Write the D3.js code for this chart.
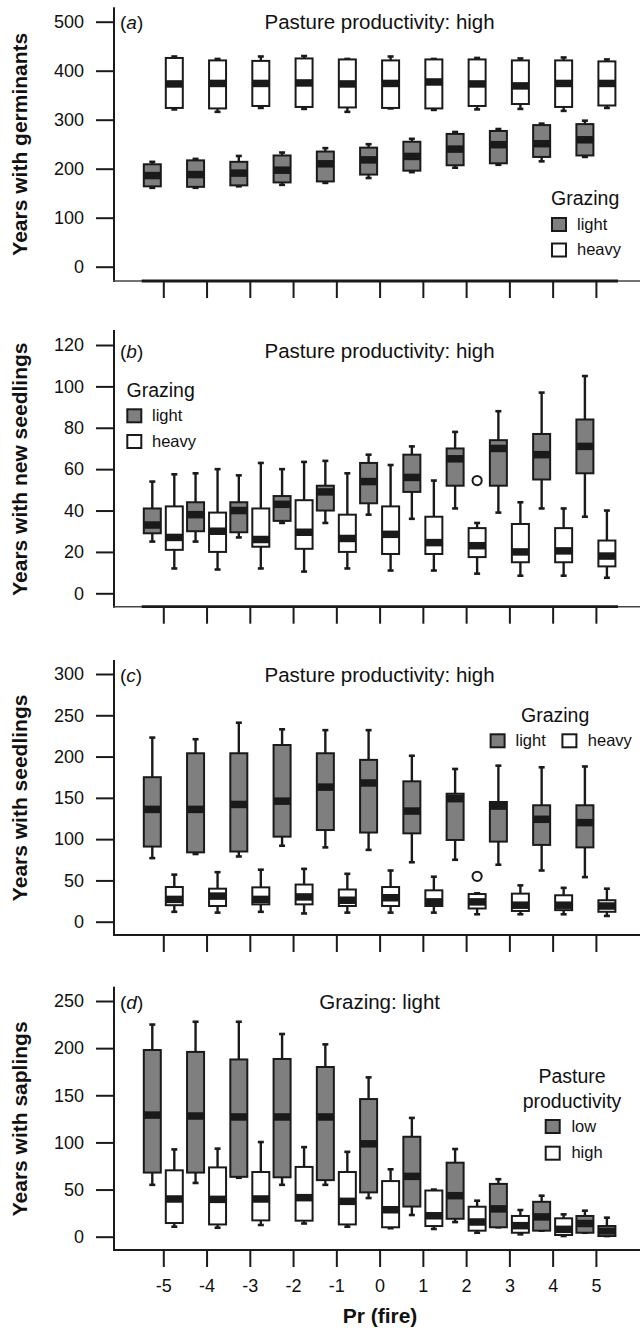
<!DOCTYPE html>
<html><head><meta charset="utf-8">
<script src="https://cdn.jsdelivr.net/npm/d3@7"></script>
<style>
body{margin:0;background:#fff}
svg text{font-family:"Liberation Sans",Arial,Helvetica,sans-serif;fill:#111}
</style>
</head><body>
<svg id="chart" width="640" height="1328"></svg>
<script>
// ---------- DATA ----------
const categories = [-5,-4,-3,-2,-1,0,1,2,3,4,5];
// each entry: [min, q1, median, q3, max]
const germinantsLight = [[161,164,186,209,214],[161,163,188,217,220],[164,166,191,214,226],[167,172,197,227,233],[171,174,210,235,242],[181,188,218,243,250],[193,196,225,255,261],[202,207,240,271,275],[208,211,249,277,281],[215,224,251,289,292],[224,227,259,291,298]];
const germinantsHeavy = [[321,324,373,426,429],[316,323,374,421,424],[324,328,374,420,429],[322,326,375,425,430],[316,325,373,423,424],[323,324,374,421,429],[320,323,377,423,424],[321,328,373,423,426],[322,332,369,421,425],[318,326,374,421,427],[324,329,374,419,423]];
const newSeedLight = [[25,29,33,41,54],[25,30,38,44,58],[27,29.5,40,44,57],[34,35,43,47,60],[34,40,49,52,64],[38,43.5,54,63,67],[36,49,56,67,71],[41,52,65,70,78],[39,52,70,74,88],[41,55,67,77,97],[37,58,71,84,105]];
const newSeedHeavy = [[12,21,27,42,57.5],[11.5,20,30,39,60],[12,22.5,26,41,63],[10.5,21.5,29.5,45,63.5],[12,20,26.5,38,58],[11,19,28.5,42,62],[11,19,24.5,37,54.5],[9.5,17.5,23,31.5,34],[8.5,15,20,33.5,44],[8.5,15,20.5,31.5,41],[7.5,13,18,25.5,40]];
const newSeedHeavyOutliers = [[2,54.5]];
const seedLight = [[77,91,136,175,223],[82,84,136,204,221],[79,85,142,204,241],[92,103,146,214,233],[90,111,163,204,232],[87,108,168,196,232],[72,107,134,170,201],[75,99,149,155,185],[69,97,140,145,189],[62,93,124,141,187],[54,90,120,141,188]];
const seedHeavy = [[12,20,27,42,57],[11,19,31,40,60],[12,21,27,41.6,63],[10,21,30,45,64],[11,19,26,39,58],[11,19,29,42,62],[11,19,24,38,54.5],[9,16,24,33.5,34.4],[9,13,20,34,44],[9,14,20,32,41],[7,12,19,26,40]];
const seedHeavyOutliers = [[2,55]];
const saplingLow = [[55,68,129,198,225],[57,68,128,196,228],[62.5,63.5,127,188,228],[55,63,127,188.5,215],[55,60,127,180,204],[41,47,98.5,146,169],[23,32,64,106,126],[15.5,19,43.5,78.5,93],[10,10,29.5,56,61],[6.4,6.4,21,37,43.5],[4.2,4.2,14,22,27.6]];
const saplingHigh = [[10.6,14.5,40,70.4,92.6],[9.5,13,39.6,73.5,93.4],[12.4,17.3,40,68.6,100.4],[14,17,41.4,74,95],[10.6,13,37.5,68.6,90],[9,10,28.6,59,71.5],[8.2,11.3,22.2,49,50],[4.2,6.4,15.6,31.8,38.2],[2.5,4.2,11.7,22,28.3],[0.7,1.8,7.8,19.5,23.7],[0.7,0.7,6,11.3,20.2]];
const ticksA = [0,100,200,300,400,500];
const ticksB = [0,20,40,60,80,100,120];
const ticksC = [0,50,100,150,200,250,300];
const ticksD = [0,50,100,150,200,250];

// ---------- STYLE / LAYOUT ----------
const GRAY = "#7f7f7f", WHITE = "#ffffff", INK = "#1a1a1a";
const OFF = 11, BW = 17, BAND = 7.5;
const svg = d3.select("#chart");
const x = d3.scalePoint().domain(categories).range([163.3, 595.9]);

const panels = [
  {label:"a", yTitle:"Years with germinants", title:"Pasture productivity: high", ticks:ticksA,
   domain:[0,500], range:[266.7,21.7], top:7.3, bottom:281, titleY:29.3, thick:true,
   series:[{data:germinantsLight, fill:GRAY, dx:-OFF, out:[]},{data:germinantsHeavy, fill:WHITE, dx:OFF, out:[]}],
   legend:{type:"v", head:"Grazing", hx:551, hy:205, sx:552, tx:577, rows:[[218,229.5,"light",GRAY],[243.5,254.5,"heavy",WHITE]]}},
  {label:"b", yTitle:"Years with new seedlings", title:"Pasture productivity: high", ticks:ticksB,
   domain:[0,120], range:[593.3,345], top:330, bottom:606.7, titleY:357.5, thick:true,
   series:[{data:newSeedLight, fill:GRAY, dx:-OFF, out:[]},{data:newSeedHeavy, fill:WHITE, dx:OFF, out:newSeedHeavyOutliers}],
   legend:{type:"v", head:"Grazing", hx:126.5, hy:396.7, sx:127.3, tx:152, rows:[[409.3,420.5,"light",GRAY],[435,446.5,"heavy",WHITE]]}},
  {label:"c", yTitle:"Years with seedlings", title:"Pasture productivity: high", ticks:ticksC,
   domain:[0,300], range:[921.7,674], top:660, bottom:935, titleY:681.5, thick:false,
   series:[{data:seedLight, fill:GRAY, dx:-OFF, out:[]},{data:seedHeavy, fill:WHITE, dx:OFF, out:seedHeavyOutliers}],
   legend:{type:"h", head:"Grazing", hx:521, hy:721.7, ty:746, sy:734.3, items:[[490.6,515.5,"light",GRAY],[562.4,587.8,"heavy",WHITE]]}},
  {label:"d", yTitle:"Years with saplings", title:"Grazing: light", ticks:ticksD,
   domain:[0,250], range:[1236.7,1001], top:986.7, bottom:1250, titleY:1008.5, thick:false, xLabels:true,
   series:[{data:saplingLow, fill:GRAY, dx:-OFF, out:[]},{data:saplingHigh, fill:WHITE, dx:OFF, out:[]}],
   legend:{type:"v2", heads:[["Pasture",1082.7],["productivity",1108.3]], hx:572, sx:545.7, tx:571.4, rows:[[1120,1131.7,"low",GRAY],[1146.7,1158.3,"high",WHITE]]}}
];

function drawBox(g, cx, s, fill, y) {
  const [mn,q1,md,q3,mx] = s;
  const yMin=y(mn), yQ1=y(q1), yMd=y(md), yQ3=y(q3), yMax=y(mx);
  // whiskers
  g.append("line").attr("x1",cx).attr("x2",cx).attr("y1",yMax).attr("y2",yMin)
    .attr("stroke",INK).attr("stroke-width",2.4);
  [yMax,yMin].forEach(v=>g.append("line").attr("x1",cx-3).attr("x2",cx+3).attr("y1",v).attr("y2",v)
    .attr("stroke",INK).attr("stroke-width",2.6));
  // box
  g.append("rect").attr("x",cx-BW/2).attr("y",yQ3).attr("width",BW).attr("height",Math.max(0.5,yQ1-yQ3))
    .attr("fill",fill).attr("stroke",INK).attr("stroke-width",2);
  // median band
  let b0 = Math.max(yQ3, yMd-BAND/2), b1 = Math.min(yQ1, yMd+BAND/2);
  if (b1-b0 < BAND) { if (b0===yQ3) b1=Math.min(yQ1,b0+BAND); else b0=Math.max(yQ3,b1-BAND); }
  g.append("rect").attr("x",cx-BW/2).attr("y",b0).attr("width",BW).attr("height",Math.max(0,b1-b0))
    .attr("fill",INK);
}

panels.forEach(p => {
  const y = d3.scaleLinear().domain(p.domain).range(p.range);
  const g = svg.append("g");
  // frame
  g.append("line").attr("x1",114).attr("x2",114).attr("y1",p.top).attr("y2",p.bottom+1)
    .attr("stroke",INK).attr("stroke-width",2);
  g.append("line").attr("x1",113).attr("x2",640).attr("y1",p.bottom).attr("y2",p.bottom)
    .attr("stroke",p.thick?"#444":INK).attr("stroke-width",p.thick?1.4:2);
  if (p.thick) g.append("line").attr("x1",141.7).attr("x2",618).attr("y1",p.bottom).attr("y2",p.bottom)
    .attr("stroke",INK).attr("stroke-width",2.8);
  // y axis
  const ya = g.append("g").attr("transform","translate(114,0)")
    .call(d3.axisLeft(y).tickValues(p.ticks).tickSize(18).tickPadding(12).tickFormat(d3.format("d")));
  ya.select(".domain").remove();
  ya.selectAll(".tick line").attr("stroke",INK).attr("stroke-width",2);
  ya.selectAll(".tick text").attr("font-size",18).attr("font-family",'"Liberation Sans",Arial,sans-serif').attr("fill","#111");
  // x axis
  const xa = g.append("g").attr("transform",`translate(0,${p.bottom})`)
    .call(d3.axisBottom(x).tickSize(17).tickPadding(12).tickFormat(p.xLabels ? d=>d : ""));
  xa.select(".domain").remove();
  xa.selectAll(".tick line").attr("stroke",INK).attr("stroke-width",2);
  xa.selectAll(".tick text").attr("font-size",18).attr("font-family",'"Liberation Sans",Arial,sans-serif').attr("fill","#111");
  // y title
  const mid = (p.range[0]+p.range[1])/2;
  g.append("text").attr("transform",`translate(27.2,${mid}) rotate(-90)`).attr("text-anchor","middle")
    .attr("font-size",21).attr("font-weight","bold").text(p.yTitle);
  // panel label
  const lab = g.append("text").attr("x",120).attr("y",p.titleY).attr("font-size",19);
  lab.append("tspan").text("(");
  lab.append("tspan").attr("font-style","italic").text(p.label);
  lab.append("tspan").text(")");
  // title
  g.append("text").attr("x",379.6).attr("y",p.titleY).attr("text-anchor","middle")
    .attr("font-size",20.5).text(p.title);
  // boxes
  p.series.forEach(s => {
    s.data.forEach((st,i) => drawBox(g, x(categories[i])+s.dx, st, s.fill, y));
    s.out.forEach(([c,v]) => g.append("circle").attr("cx",x(c)+s.dx).attr("cy",y(v)).attr("r",4.6)
      .attr("fill","#fff").attr("stroke",INK).attr("stroke-width",2));
  });
  // legend
  const L = p.legend;
  const sw = (sx,sy,f)=>g.append("rect").attr("x",sx).attr("y",sy).attr("width",14).attr("height",13)
      .attr("fill",f).attr("stroke",INK).attr("stroke-width",2);
  if (L.type==="v") {
    g.append("text").attr("x",L.hx).attr("y",L.hy).attr("font-size",19.5).text(L.head);
    L.rows.forEach(([sy,ty,t,f])=>{ sw(L.sx,sy,f); g.append("text").attr("x",L.tx).attr("y",ty).attr("font-size",16.5).text(t); });
  } else if (L.type==="h") {
    g.append("text").attr("x",L.hx).attr("y",L.hy).attr("font-size",19.5).text(L.head);
    L.items.forEach(([sx,tx,t,f])=>{ sw(sx,L.sy,f); g.append("text").attr("x",tx).attr("y",L.ty).attr("font-size",16.5).text(t); });
  } else {
    L.heads.forEach(([t,hy])=>g.append("text").attr("x",L.hx).attr("y",hy).attr("text-anchor","middle").attr("font-size",19.5).text(t));
    L.rows.forEach(([sy,ty,t,f])=>{ sw(L.sx,sy,f); g.append("text").attr("x",L.tx).attr("y",ty).attr("font-size",16.5).text(t); });
  }
});

// x-axis title
svg.append("text").attr("x",380).attr("y",1323).attr("text-anchor","middle")
  .attr("font-size",21).attr("font-weight","bold").text("Pr (fire)");
</script>
</body></html>
